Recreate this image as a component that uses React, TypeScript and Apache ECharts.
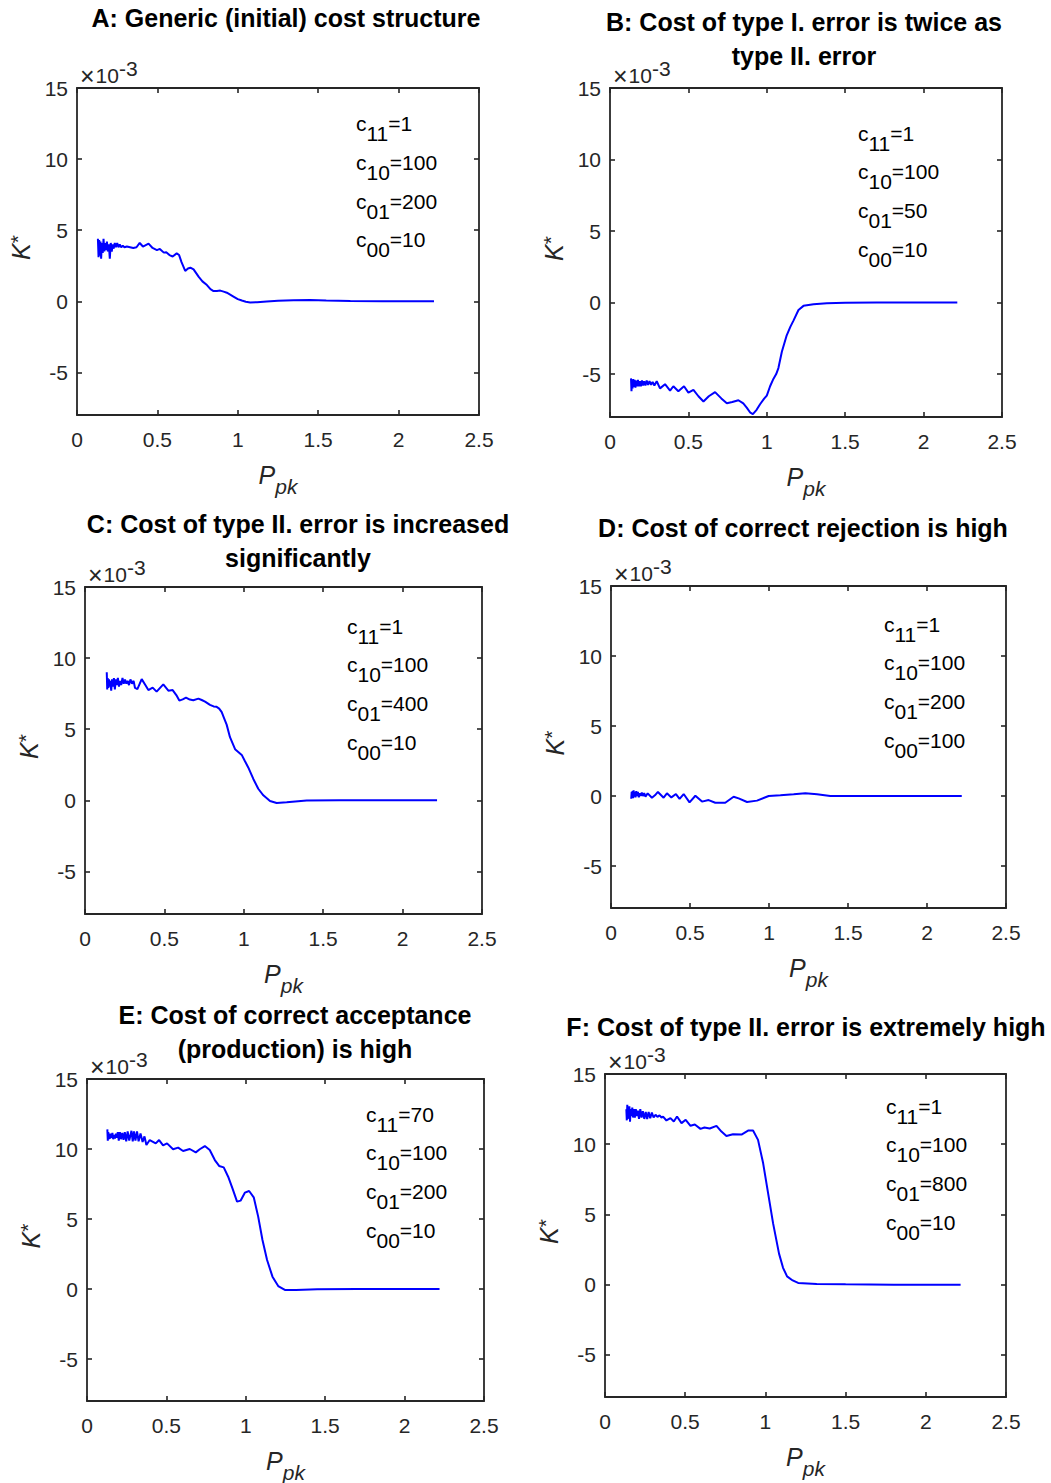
import React, { useEffect, useRef } from "react";
import * as echarts from "echarts";

const FONT = '"Liberation Sans", Arial, Helvetica, sans-serif';
const INK = "#262626";
const LINE = "#0000ff";

// ---------------- data (values in units of 1e-3) ----------------
const curveA: [number, number][] = [
  [0.130, 4.4], [0.134, 3.1], [0.138, 4.3], [0.142, 3.2], [0.146, 4.2], [0.150, 3.0], [0.155, 4.1], [0.160, 3.4],
  [0.165, 4.4], [0.170, 3.5], [0.175, 4.1], [0.180, 3.6], [0.186, 4.2], [0.192, 3.5], [0.198, 4.0], [0.204, 3.0],
  [0.210, 4.1], [0.216, 3.5], [0.222, 4.0], [0.228, 3.7], [0.235, 4.1], [0.242, 3.8], [0.250, 4.1], [0.258, 3.8],
  [0.266, 4.0], [0.275, 3.8], [0.285, 3.9], [0.295, 3.8], [0.310, 3.85], [0.330, 3.8], [0.350, 3.75], [0.370, 3.8],
  [0.390, 4.1], [0.410, 3.85], [0.445, 4.05], [0.470, 3.75], [0.497, 3.6], [0.515, 3.68], [0.540, 3.42], [0.555, 3.45],
  [0.575, 3.25], [0.595, 3.15], [0.620, 3.37], [0.635, 3.25], [0.650, 2.75], [0.673, 2.13], [0.690, 2.3], [0.705, 2.36],
  [0.725, 2.24], [0.756, 1.73], [0.780, 1.4], [0.808, 1.14], [0.830, 0.85], [0.849, 0.72], [0.870, 0.72], [0.891, 0.75],
  [0.912, 0.68], [0.932, 0.6], [0.955, 0.45], [0.973, 0.33], [1.000, 0.15], [1.025, 0.05], [1.050, -0.03], [1.077, -0.08],
  [1.120, -0.07], [1.180, -0.02], [1.250, 0.03], [1.346, 0.07], [1.450, 0.08], [1.550, 0.05], [1.700, 0.02], [1.900, 0.0],
  [2.100, 0.0], [2.220, 0.0],
];

const curveB: [number, number][] = [
  [0.134, -5.3], [0.137, -6.2], [0.140, -5.4], [0.144, -6.0], [0.148, -5.35], [0.152, -5.9], [0.157, -5.4], [0.162, -5.95],
  [0.167, -5.45], [0.172, -5.85], [0.178, -5.4], [0.184, -5.85], [0.190, -5.5], [0.197, -5.85], [0.204, -5.45], [0.211, -5.8],
  [0.218, -5.5], [0.226, -5.8], [0.234, -5.45], [0.243, -5.75], [0.252, -5.5], [0.262, -5.75], [0.272, -5.55], [0.283, -5.8],
  [0.298, -5.5], [0.319, -6.0], [0.351, -5.71], [0.383, -6.15], [0.404, -5.85], [0.436, -6.2], [0.472, -5.85], [0.500, -6.3],
  [0.532, -6.1], [0.564, -6.55], [0.596, -6.92], [0.630, -6.55], [0.670, -6.26], [0.710, -6.7], [0.745, -7.04], [0.780, -6.95],
  [0.819, -6.83], [0.850, -7.05], [0.872, -7.34], [0.895, -7.7], [0.911, -7.8], [0.935, -7.5], [0.957, -7.11], [0.983, -6.72],
  [1.000, -6.5], [1.021, -5.85], [1.042, -5.34], [1.060, -5.0], [1.074, -4.58], [1.096, -3.44], [1.127, -2.29], [1.150, -1.7],
  [1.170, -1.26], [1.202, -0.52], [1.234, -0.23], [1.298, -0.12], [1.383, -0.05], [1.500, -0.02], [1.700, 0.0], [2.215, 0.0],
];

const curveC: [number, number][] = [
  [0.137, 9.0], [0.140, 7.8], [0.143, 8.6], [0.147, 7.9], [0.151, 8.5], [0.155, 8.0], [0.160, 8.4], [0.165, 7.7],
  [0.170, 8.5], [0.176, 8.0], [0.182, 8.6], [0.188, 7.8], [0.194, 8.5], [0.200, 8.1], [0.207, 8.6], [0.214, 8.0],
  [0.221, 8.4], [0.228, 8.1], [0.236, 8.6], [0.244, 8.2], [0.252, 8.5], [0.260, 8.2], [0.268, 8.4], [0.277, 8.1],
  [0.286, 8.5], [0.296, 8.2], [0.306, 8.4], [0.315, 7.9], [0.330, 7.82], [0.357, 8.52], [0.380, 8.1], [0.399, 7.75],
  [0.426, 7.92], [0.451, 7.64], [0.493, 8.15], [0.525, 7.71], [0.552, 7.75], [0.575, 7.4], [0.594, 7.01], [0.615, 7.1],
  [0.636, 7.22], [0.660, 7.08], [0.682, 7.04], [0.714, 7.15], [0.735, 7.05], [0.756, 6.94], [0.787, 6.71], [0.810, 6.6],
  [0.829, 6.57], [0.845, 6.45], [0.861, 6.2], [0.875, 5.8], [0.892, 5.32], [0.913, 4.44], [0.945, 3.59], [0.965, 3.4],
  [0.987, 3.19], [1.005, 2.8], [1.028, 2.31], [1.060, 1.5], [1.091, 0.81], [1.123, 0.35], [1.165, -0.05], [1.207, -0.19],
  [1.270, -0.14], [1.396, -0.02], [1.600, 0.0], [2.217, 0.0],
];

const curveD: [number, number][] = [
  [0.128, -0.2], [0.131, 0.3], [0.134, -0.1], [0.137, 0.35], [0.140, -0.15], [0.143, 0.4], [0.147, -0.05], [0.151, 0.3],
  [0.155, -0.1], [0.160, 0.35], [0.165, 0.0], [0.170, 0.3], [0.176, -0.1], [0.182, 0.2], [0.188, 0.0], [0.195, 0.25],
  [0.202, 0.0], [0.210, 0.2], [0.218, -0.05], [0.232, 0.19], [0.259, -0.12], [0.278, 0.05], [0.297, 0.29], [0.333, -0.12],
  [0.354, 0.19], [0.382, -0.1], [0.411, 0.14], [0.434, -0.21], [0.460, 0.14], [0.497, -0.45], [0.534, 0.02], [0.576, -0.4],
  [0.618, -0.29], [0.660, -0.48], [0.723, -0.48], [0.776, -0.05], [0.808, -0.17], [0.861, -0.43], [0.924, -0.33], [0.998, 0.0],
  [1.072, 0.05], [1.156, 0.12], [1.230, 0.19], [1.304, 0.12], [1.388, 0.0], [1.600, 0.0], [2.220, 0.0],
];

const curveE: [number, number][] = [
  [0.128, 11.4], [0.131, 10.6], [0.134, 11.2], [0.138, 10.7], [0.142, 11.1], [0.146, 10.75], [0.150, 11.1], [0.155, 10.8],
  [0.160, 11.15], [0.165, 10.7], [0.170, 11.0], [0.176, 10.75], [0.182, 11.1], [0.188, 10.8], [0.194, 11.2], [0.200, 10.6],
  [0.207, 11.2], [0.214, 10.7], [0.222, 11.15], [0.230, 10.65], [0.238, 11.2], [0.247, 10.55], [0.256, 11.25], [0.266, 10.6],
  [0.280, 11.3], [0.288, 10.55], [0.296, 11.25], [0.305, 10.6], [0.315, 11.25], [0.325, 10.55], [0.337, 11.1], [0.350, 10.5],
  [0.362, 10.9], [0.374, 10.29], [0.395, 10.64], [0.433, 10.4], [0.454, 10.64], [0.479, 10.26], [0.504, 10.4], [0.542, 9.98],
  [0.574, 10.1], [0.605, 9.86], [0.647, 10.0], [0.685, 9.76], [0.710, 9.98], [0.742, 10.21], [0.773, 9.93], [0.805, 9.21],
  [0.832, 8.79], [0.861, 8.69], [0.889, 8.02], [0.916, 7.19], [0.945, 6.24], [0.967, 6.31], [0.994, 6.88], [1.021, 7.0],
  [1.050, 6.55], [1.078, 5.17], [1.105, 3.5], [1.134, 2.07], [1.168, 0.88], [1.204, 0.21], [1.246, -0.07], [1.316, -0.07],
  [1.450, -0.02], [1.700, 0.0], [2.220, 0.0],
];

const curveF: [number, number][] = [
  [0.133, 12.5], [0.136, 11.7], [0.139, 12.8], [0.142, 11.8], [0.145, 12.6], [0.148, 11.9], [0.152, 12.7], [0.156, 11.6],
  [0.160, 12.5], [0.165, 12.0], [0.170, 12.6], [0.175, 11.9], [0.180, 12.5], [0.186, 11.9], [0.192, 12.5], [0.198, 12.0],
  [0.205, 12.4], [0.212, 11.8], [0.220, 12.5], [0.228, 11.9], [0.236, 12.35], [0.245, 11.8], [0.254, 12.3], [0.263, 11.8],
  [0.272, 12.3], [0.282, 11.85], [0.292, 12.25], [0.303, 11.9], [0.315, 12.1], [0.327, 11.95], [0.340, 12.05], [0.352, 11.9],
  [0.362, 11.97], [0.383, 11.69], [0.408, 11.86], [0.429, 11.62], [0.449, 11.97], [0.477, 11.5], [0.503, 11.74], [0.533, 11.31],
  [0.560, 11.4], [0.595, 11.09], [0.620, 11.19], [0.653, 11.12], [0.695, 11.31], [0.726, 10.9], [0.757, 10.59], [0.798, 10.71],
  [0.851, 10.69], [0.892, 10.97], [0.923, 10.97], [0.954, 10.31], [0.986, 8.64], [1.017, 6.5], [1.048, 4.36], [1.085, 2.21],
  [1.110, 1.2], [1.135, 0.59], [1.170, 0.3], [1.204, 0.12], [1.320, 0.05], [1.500, 0.02], [1.800, 0.0], [2.217, 0.0],
];

const titleA = ["A: Generic (initial) cost structure"];
const titleB = ["B: Cost of type I. error is twice as", "type II. error"];
const titleC = ["C: Cost of type II. error is increased", "significantly"];
const titleD = ["D: Cost of correct rejection is high"];
const titleE = ["E: Cost of correct acceptance", "(production) is high"];
const titleF = ["F: Cost of type II. error is extremely high"];

const costsA: [string, string][] = [["11", "1"], ["10", "100"], ["01", "200"], ["00", "10"]];
const costsB: [string, string][] = [["11", "1"], ["10", "100"], ["01", "50"], ["00", "10"]];
const costsC: [string, string][] = [["11", "1"], ["10", "100"], ["01", "400"], ["00", "10"]];
const costsD: [string, string][] = [["11", "1"], ["10", "100"], ["01", "200"], ["00", "100"]];
const costsE: [string, string][] = [["11", "70"], ["10", "100"], ["01", "200"], ["00", "10"]];
const costsF: [string, string][] = [["11", "1"], ["10", "100"], ["01", "800"], ["00", "10"]];

const xTicks = [0, 0.5, 1, 1.5, 2, 2.5];
const yTicks = [-5, 0, 5, 10, 15];
const X_MIN = 0, X_MAX = 2.5, Y_MIN = -8, Y_MAX = 15;

// ---------------- layout ----------------
const panels = [
  { data: curveA, title: titleA, costs: costsA, left: 77, top: 88, width: 402, height: 327, titleX: 286, titleY: 18, annX: 356, annY: 123.5 },
  { data: curveB, title: titleB, costs: costsB, left: 610, top: 88, width: 392, height: 329, titleX: 804, titleY: 22, annX: 858, annY: 133 },
  { data: curveC, title: titleC, costs: costsC, left: 85, top: 587, width: 397, height: 327, titleX: 298, titleY: 524, annX: 347, annY: 626 },
  { data: curveD, title: titleD, costs: costsD, left: 611, top: 586, width: 395, height: 322, titleX: 803, titleY: 528, annX: 884, annY: 624 },
  { data: curveE, title: titleE, costs: costsE, left: 87, top: 1079, width: 397, height: 322, titleX: 295, titleY: 1015, annX: 366, annY: 1114 },
  { data: curveF, title: titleF, costs: costsF, left: 605, top: 1074, width: 401, height: 323, titleX: 806, titleY: 1027, annX: 886, annY: 1106 },
];

function buildOption() {
  const grid: any[] = [];
  const xAxis: any[] = [];
  const yAxis: any[] = [];
  const series: any[] = [];
  const graphic: any[] = [];

  const axisLine = { show: true, onZero: false, lineStyle: { color: INK, width: 1.8 } };
  const tickBase = { show: true, inside: true, length: 5, lineStyle: { color: INK, width: 1.6 } };

  panels.forEach((p, i) => {
    grid.push({ left: p.left, top: p.top, width: p.width, height: p.height, containLabel: false });
    const xCommon = { gridIndex: i, type: "value", min: X_MIN, max: X_MAX, splitLine: { show: false }, axisLine };
    xAxis.push({
      ...xCommon, position: "bottom",
      axisTick: { ...tickBase, customValues: xTicks },
      axisLabel: { customValues: xTicks, fontSize: 21, color: INK, fontFamily: FONT, margin: 14, formatter: (v: number) => String(v) },
    });
    xAxis.push({
      ...xCommon, position: "top",
      axisTick: { ...tickBase, customValues: xTicks },
      axisLabel: { show: false },
    });
    const yCommon = { gridIndex: i, type: "value", min: Y_MIN, max: Y_MAX, splitLine: { show: false }, axisLine };
    yAxis.push({
      ...yCommon, position: "left",
      axisTick: { ...tickBase, customValues: yTicks },
      axisLabel: { customValues: yTicks, fontSize: 21, color: INK, fontFamily: FONT, margin: 9, formatter: (v: number) => String(v) },
    });
    yAxis.push({
      ...yCommon, position: "right",
      axisTick: { ...tickBase, customValues: yTicks },
      axisLabel: { show: false },
    });
    series.push({
      type: "line", xAxisIndex: 2 * i, yAxisIndex: 2 * i, data: p.data,
      showSymbol: false, symbol: "none", lineStyle: { color: LINE, width: 2 }, silent: true,
    });

    // title
    p.title.forEach((t, k) => {
      graphic.push({
        type: "text", x: p.titleX, y: p.titleY + k * 34,
        style: { text: t, fill: "#000", fontSize: 25, fontWeight: "bold", fontFamily: FONT, align: "center", verticalAlign: "middle" },
      });
    });
    // annotations
    p.costs.forEach(([sub, val], k) => {
      graphic.push({
        type: "text", x: p.annX, y: p.annY + k * 38.8,
        style: {
          text: `{b|c}{s|${sub}}{b|=${val}}`, align: "left", verticalAlign: "middle",
          rich: {
            b: { fontSize: 21, fontFamily: FONT, fill: "#000", verticalAlign: "middle" },
            s: { fontSize: 21, fontFamily: FONT, fill: "#000", verticalAlign: "middle", padding: [20, 0, 0, 0] },
          },
        },
      });
    });
    // exponent
    graphic.push({
      type: "text", x: p.left + 3, y: p.top - 13,
      style: {
        text: "{x|\u00d7}{a|10}{b|-3}", align: "left", verticalAlign: "middle",
        rich: {
          x: { fontSize: 25, fontFamily: FONT, fill: INK, verticalAlign: "middle", padding: [2, 1, 0, 0] },
          a: { fontSize: 21, fontFamily: FONT, fill: INK, verticalAlign: "middle" },
          b: { fontSize: 21, fontFamily: FONT, fill: INK, verticalAlign: "middle", padding: [0, 0, 14, 0] },
        },
      },
    });
    // y label
    graphic.push({
      type: "text", x: p.left - 56, y: p.top + p.height / 2 - 4, rotation: Math.PI / 2,
      style: {
        text: "{k|K}{s|*}", align: "center", verticalAlign: "middle",
        rich: {
          k: { fontSize: 25, fontStyle: "italic", fontFamily: FONT, fill: INK, verticalAlign: "middle" },
          s: { fontSize: 21, fontFamily: FONT, fill: INK, verticalAlign: "middle", padding: [0, 0, 8, 0] },
        },
      },
    });
    // x label
    graphic.push({
      type: "text", x: p.left + p.width / 2, y: p.top + p.height + 60,
      style: {
        text: "{p|P}{s|pk}", align: "center", verticalAlign: "middle",
        rich: {
          p: { fontSize: 25, fontStyle: "italic", fontFamily: FONT, fill: INK, verticalAlign: "middle" },
          s: { fontSize: 21, fontStyle: "italic", fontFamily: FONT, fill: INK, verticalAlign: "middle", padding: [22, 0, 0, 0] },
        },
      },
    });
  });

  return { animation: false, backgroundColor: "#ffffff", grid, xAxis, yAxis, series, graphic };
}

export default function App() {
  const ref = useRef<HTMLDivElement>(null);
  useEffect(() => {
    if (!ref.current) return;
    const chart = echarts.init(ref.current, null, { renderer: "svg" });
    chart.setOption(buildOption() as any);
    return () => chart.dispose();
  }, []);
  return (
    <div
      ref={ref}
      style={{ position: "absolute", left: 0, top: 0, width: 1051, height: 1483, background: "#ffffff" }}
    />
  );
}
